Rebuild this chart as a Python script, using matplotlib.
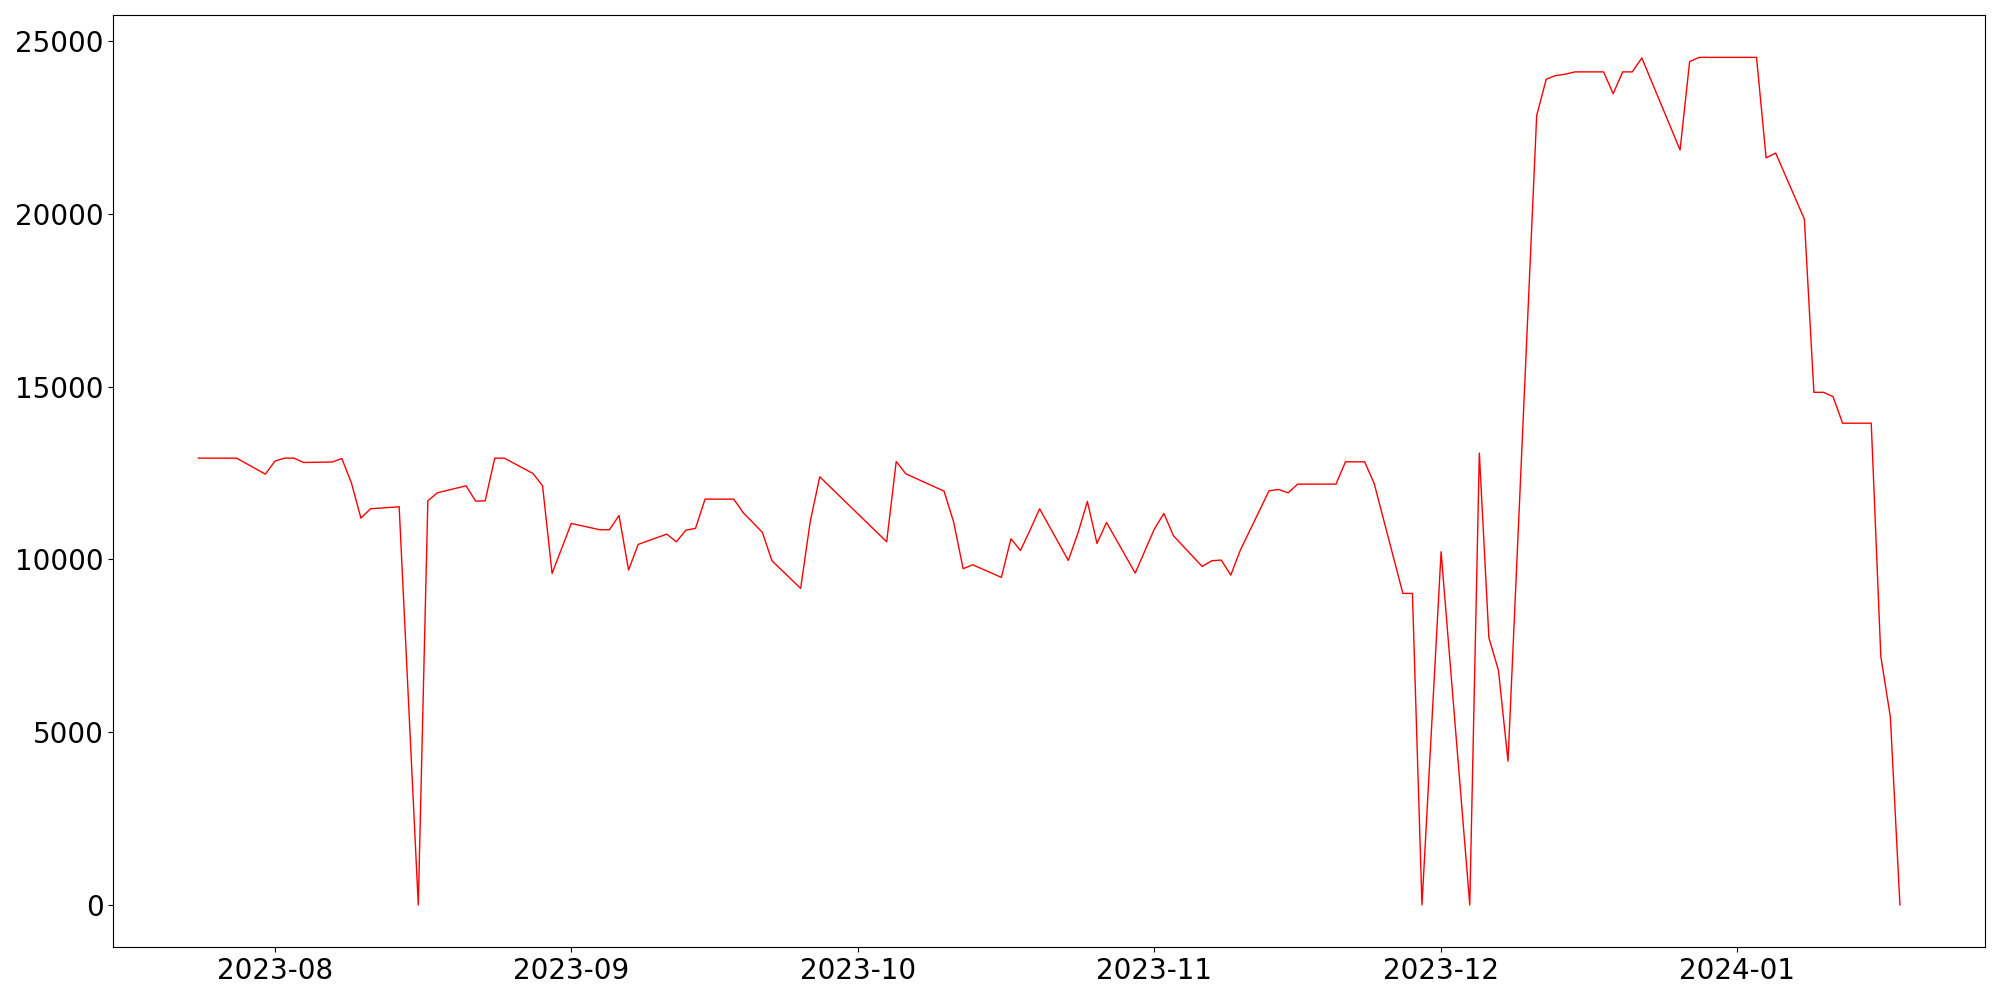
import numpy as np
import pandas as pd
import matplotlib
matplotlib.use("Agg")
import matplotlib.pyplot as plt

# daily values (weekdays, some gaps)
dates = [
    "2023-07-24", "2023-07-25", "2023-07-26", "2023-07-27", "2023-07-28",
    "2023-07-31", "2023-08-01", "2023-08-02", "2023-08-03", "2023-08-04",
    "2023-08-07", "2023-08-08", "2023-08-09", "2023-08-10", "2023-08-11",
    "2023-08-14", "2023-08-16", "2023-08-17", "2023-08-18",
    "2023-08-21", "2023-08-22", "2023-08-23", "2023-08-24", "2023-08-25",
    "2023-08-28", "2023-08-29", "2023-08-30", "2023-08-31", "2023-09-01",
    "2023-09-04", "2023-09-05", "2023-09-06", "2023-09-07", "2023-09-08",
    "2023-09-11", "2023-09-12", "2023-09-13", "2023-09-14", "2023-09-15",
    "2023-09-18", "2023-09-19", "2023-09-20", "2023-09-21", "2023-09-22",
    "2023-09-25", "2023-09-26", "2023-09-27",
    "2023-10-04", "2023-10-05", "2023-10-06",
    "2023-10-10", "2023-10-11", "2023-10-12", "2023-10-13",
    "2023-10-16", "2023-10-17", "2023-10-18", "2023-10-19", "2023-10-20",
    "2023-10-23", "2023-10-24", "2023-10-25", "2023-10-26", "2023-10-27",
    "2023-10-30", "2023-10-31", "2023-11-01", "2023-11-02", "2023-11-03",
    "2023-11-06", "2023-11-07", "2023-11-08", "2023-11-09", "2023-11-10",
    "2023-11-13", "2023-11-14", "2023-11-15", "2023-11-16", "2023-11-17",
    "2023-11-20", "2023-11-21", "2023-11-22", "2023-11-23", "2023-11-24",
    "2023-11-27", "2023-11-28", "2023-11-29", "2023-12-01",
    "2023-12-04", "2023-12-05", "2023-12-06", "2023-12-07", "2023-12-08",
    "2023-12-11", "2023-12-12", "2023-12-13", "2023-12-14", "2023-12-15",
    "2023-12-18", "2023-12-19", "2023-12-20", "2023-12-21", "2023-12-22",
    "2023-12-26", "2023-12-27", "2023-12-28", "2023-12-29",
    "2024-01-02", "2024-01-03", "2024-01-04", "2024-01-05",
    "2024-01-08", "2024-01-09", "2024-01-10", "2024-01-11", "2024-01-12",
    "2024-01-15", "2024-01-16", "2024-01-17", "2024-01-18",
]
values = [
    12934, 12934, 12934, 12934, 12934,
    12471, 12847, 12934, 12934, 12809,
    12822, 12924, 12221, 11198, 11468,
    11526, 0, 11700, 11931,
    12134, 11690, 11700, 12934, 12934,
    12490, 12134, 9597, 10320, 11043,
    10861, 10861, 11275, 9693, 10436,
    10735, 10513, 10851, 10899, 11748,
    11748, 11352, 11070, 10783, 9963,
    9163, 11092, 12394,
    10513, 12838, 12481,
    11979, 11092, 9732, 9848,
    9481, 10600, 10262, 10851, 11468,
    9973, 10754, 11680, 10465, 11072,
    9606, 10243, 10880, 11333, 10687,
    9800, 9963, 9983, 9549, 10272,
    11989, 12027, 11931, 12182, 12182,
    12182, 12828, 12828, 12828, 12201,
    9018, 9018, 0, 10224,
    0, 13080, 7735, 6790, 4160,
    22853, 23907, 24011, 24050, 24117,
    24117, 23486, 24117, 24117, 24520,
    21855, 24415, 24537, 24537,
    24537, 24537, 21627, 21768,
    19856, 14840, 14840, 14717, 13946,
    13946, 7194, 5440, 0,
]

x = pd.to_datetime(dates)
y = np.array(values)

fig, ax = plt.subplots(figsize=(20, 10), dpi=100)
ax.plot(x, y, color="red", linewidth=1)
ax.tick_params(axis="both", labelsize=20)
plt.tight_layout()
plt.savefig("out.png")
